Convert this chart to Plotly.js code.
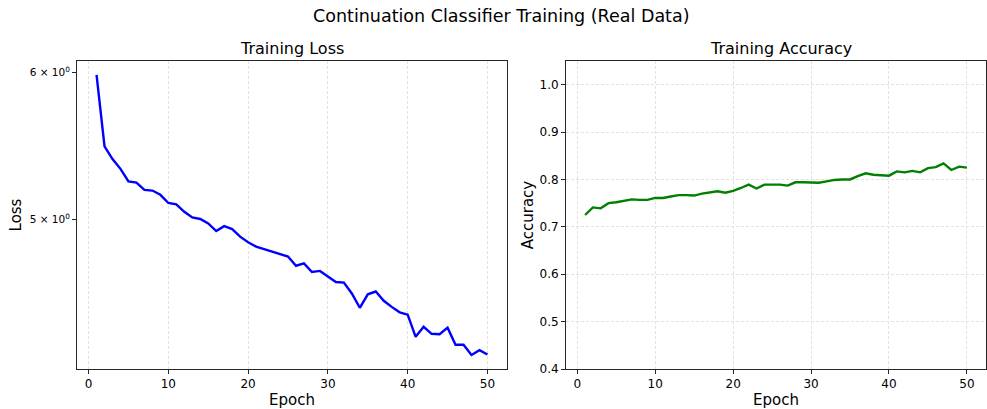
<!DOCTYPE html>
<html>
<head>
<meta charset="utf-8">
<script src="https://cdn.plot.ly/plotly-3.0.1.min.js"></script>
<style>html,body{margin:0;padding:0;background:#fff;}#chart{width:987px;height:409px;}</style>
</head>
<body>
<div id="chart"></div>
<script>
const epochs = [1,2,3,4,5,6,7,8,9,10,11,12,13,14,15,16,17,18,19,20,21,22,23,24,25,26,27,28,29,30,31,32,33,34,35,36,37,38,39,40,41,42,43,44,45,46,47,48,49,50];
const lossValues = [5.98,5.475,5.39,5.325,5.243,5.235,5.188,5.184,5.157,5.105,5.097,5.05,5.015,5.005,4.978,4.931,4.961,4.943,4.897,4.863,4.837,4.822,4.808,4.796,4.778,4.724,4.738,4.688,4.694,4.662,4.63,4.627,4.565,4.485,4.56,4.576,4.524,4.49,4.46,4.447,4.327,4.381,4.343,4.341,4.376,4.285,4.285,4.231,4.256,4.233];
const accValues = [0.725,0.741,0.739,0.75,0.752,0.755,0.758,0.757,0.757,0.761,0.761,0.764,0.767,0.767,0.766,0.770,0.773,0.775,0.772,0.776,0.782,0.789,0.781,0.789,0.789,0.789,0.787,0.794,0.794,0.794,0.793,0.796,0.799,0.800,0.800,0.807,0.813,0.810,0.809,0.808,0.817,0.815,0.818,0.815,0.824,0.826,0.834,0.820,0.827,0.825];
const xTicks = [0,10,20,30,40,50];
const lossTickVals = [5,6];
const lossTickText = ['5 × 10<sup>0</sup>','6 × 10<sup>0</sup>'];
const accTickVals = [0.4,0.5,0.6,0.7,0.8,0.9,1.0];
const accTickText = ['0.4','0.5','0.6','0.7','0.8','0.9','1.0'];

const FONT = 'DejaVu Sans, sans-serif';
const W = 987, H = 409;
const gridColor = '#e2e2e2';

const traces = [
  {x: epochs, y: lossValues, type: 'scatter', mode: 'lines', line: {color: '#0000ff', width: 2.4}, xaxis: 'x', yaxis: 'y', showlegend: false, hoverinfo: 'skip'},
  {x: epochs, y: accValues, type: 'scatter', mode: 'lines', line: {color: '#008000', width: 2.4}, xaxis: 'x2', yaxis: 'y2', showlegend: false, hoverinfo: 'skip'}
];

const yDom = [1 - 369/H, 1 - 61/H];
const titleFont = {family: FONT, size: 15, color: '#000'};
const commonAxis = {
  showline: true, linecolor: '#262626', linewidth: 1, mirror: true,
  ticks: 'outside', ticklen: 4, tickwidth: 1, tickcolor: '#262626',
  tickfont: {family: FONT, size: 12, color: '#000'},
  zeroline: false, gridcolor: gridColor, griddash: '3px,2px', gridwidth: 1
};

const layout = {
  width: W, height: H,
  margin: {l: 0, r: 0, t: 0, b: 0},
  paper_bgcolor: '#fff', plot_bgcolor: '#fff',
  font: {family: FONT, color: '#000'},
  xaxis: Object.assign({}, commonAxis, {
    domain: [77/W, 507/W], anchor: 'y', range: [-1.45, 52.45],
    tickvals: xTicks, showgrid: true,
    title: {text: 'Epoch', font: titleFont, standoff: 5}
  }),
  yaxis: Object.assign({}, commonAxis, {
    domain: yDom, anchor: 'x', type: 'log', range: [0.6189, 0.7842],
    tickvals: lossTickVals, ticktext: lossTickText, showgrid: false,
    tickfont: {family: FONT, size: 10.5, color: '#000'},
    title: {text: 'Loss', font: titleFont, standoff: 4}
  }),
  xaxis2: Object.assign({}, commonAxis, {
    domain: [566/W, 986/W], anchor: 'y2', range: [-1.45, 52.45],
    tickvals: xTicks, showgrid: true,
    title: {text: 'Epoch', font: titleFont, standoff: 5}
  }),
  yaxis2: Object.assign({}, commonAxis, {
    domain: yDom, anchor: 'x2', range: [0.4, 1.05],
    tickvals: accTickVals, ticktext: accTickText, showgrid: true,
    title: {text: 'Accuracy', font: titleFont, standoff: 2}
  }),
  annotations: [
    {text: 'Continuation Classifier Training (Real Data)', xref: 'paper', yref: 'paper', x: 501/W, y: 1 - 16/H, xanchor: 'center', yanchor: 'middle', showarrow: false, font: {family: FONT, size: 17.5, color: '#000'}},
    {text: 'Training Loss', xref: 'paper', yref: 'paper', x: 292/W, y: 1 - 49/H, xanchor: 'center', yanchor: 'middle', showarrow: false, font: {family: FONT, size: 16, color: '#000'}},
    {text: 'Training Accuracy', xref: 'paper', yref: 'paper', x: 781/W, y: 1 - 49/H, xanchor: 'center', yanchor: 'middle', showarrow: false, font: {family: FONT, size: 16, color: '#000'}}
  ]
};

Plotly.newPlot('chart', traces, layout, {staticPlot: true, displayModeBar: false});
</script>
</body>
</html>
